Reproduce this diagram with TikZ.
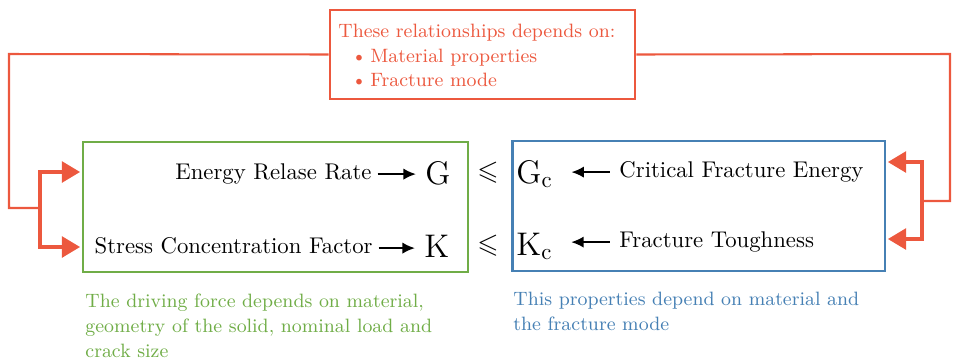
\documentclass[tikz,border=0pt]{standalone}
\usepackage{amssymb}
\usetikzlibrary{arrows.meta}
\definecolor{myred}{RGB}{236,88,62}
\definecolor{mygreen}{RGB}{112,173,71}
\definecolor{myblue}{RGB}{70,128,180}
\begin{document}
\begin{tikzpicture}[x=0.44pt,y=-0.44pt,
  txt/.style={inner sep=0pt, font=\fontsize{10}{11}\selectfont},
  stxt/.style={inner sep=0pt, font=\fontsize{8.5}{11}\selectfont},
  big/.style={inner sep=0pt, font=\Large},
  boxg/.style={draw=mygreen, line width=1.3pt, minimum width=169.4pt, minimum height=57.2pt, inner sep=0pt},
  boxb/.style={draw=myblue, line width=1.3pt, minimum width=164.1pt, minimum height=57.2pt, inner sep=0pt},
  boxr/.style={draw=myred, line width=1.25pt, minimum width=134.2pt, minimum height=39.2pt, inner sep=0pt},
  thinred/.style={draw=myred, line width=0.9pt, line join=miter},
  thickred/.style={draw=myred, line width=1.75pt, line join=miter, -{Triangle[length=8pt,width=9pt]}, shorten >=0.6pt},
  blk/.style={line width=0.8pt, -{Latex[length=5.5pt,width=5pt]}}
]
\useasboundingbox (0,0) rectangle (953,361);

% boxes
\node[boxr] (rel) at (482.5,54.5) {};
\node[boxg] (green) at (275.5,207) {};
\node[boxb] (blue) at (698.5,206) {};

% top box text
\node[stxt, text=myred, anchor=base west] (t0) at (338,37) {These relationships depends on:};
\node[stxt, text=myred, anchor=base west] (t1) at (351,62) {\textbullet\kern1.5pt Material properties};
\node[stxt, text=myred, anchor=base west] (t2) at (351,86) {\textbullet\kern1.5pt Fracture mode};

% left column
\node[txt, anchor=base east] (erl) at (372,179) {Energy Relase Rate};
\node[txt, anchor=base east] (scf) at (373,253) {Stress Concentration Factor};
\node[big, anchor=base west] (G) at (425,184) {G};
\node[big, anchor=base west] (K) at (424,257) {K};

% leq
\node[inner sep=0pt, font=\large, anchor=base] (l1) at (488,179) {$\leqslant$};
\node[inner sep=0pt, font=\large, anchor=base] (l2) at (488,252) {$\leqslant$};

% right column
\node[big, anchor=base west] (Gc) at (516,183) {$\mathrm{G_c}$};
\node[big, anchor=base west] (Kc) at (516,255) {$\mathrm{K_c}$};
\node[txt, anchor=base west] (cfe) at (619,177) {Critical Fracture Energy};
\node[txt, anchor=base west] (ft) at (619,247) {Fracture Toughness};

% black arrows
\draw[blk, shorten <=2.5pt, shorten >=4pt] (erl.mid east) -- (erl.mid east -| G.west);
\draw[blk, shorten <=2.5pt, shorten >=4pt] (scf.mid east) -- (scf.mid east -| K.west);
\draw[blk, shorten <=4pt, shorten >=8pt] (cfe.mid west) -- (cfe.mid west -| Gc.east);
\draw[blk, shorten <=4pt, shorten >=8pt] (ft.mid west) -- (ft.mid west -| Kc.east);

% red connectors
\coordinate (lc) at (9,54);
\coordinate (lj) at (40,208);
\coordinate (rc) at (950,54);
\coordinate (rj) at (922,201);
\coordinate (ya) at (0,172);
\coordinate (yb) at (0,247);
\coordinate (yc) at (0,162);
\coordinate (yd) at (0,239);

\draw[thinred] (rel.west) -- (lc) |- (lj);
\draw[thickred] (lj) |- (green.west |- ya);
\draw[thickred] (lj) |- (green.west |- yb);

\draw[thinred] (rel.east) -- (rc) |- (rj);
\draw[thickred] (rj) |- (blue.east |- yc);
\draw[thickred] (rj) |- (blue.east |- yd);

% bottom notes
\node[stxt, text=mygreen, anchor=base west, align=left] (gn) at (85,357)
  {The driving force depends on material,\\geometry of the solid, nominal load and\\crack size};
\node[stxt, text=myblue, anchor=base west, align=left] (bn) at (513,330)
  {This properties depend on material and\\the fracture mode};
\end{tikzpicture}
\end{document}
